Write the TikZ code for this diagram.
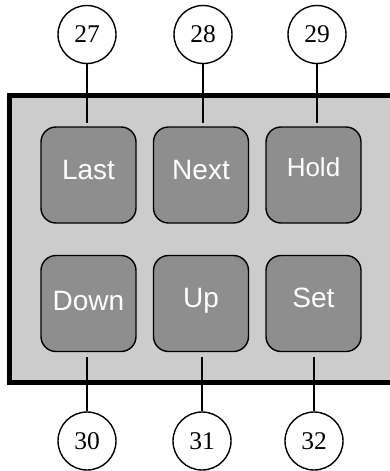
\documentclass[tikz,border=0pt]{standalone}
\usepackage{fontspec}
\setmainfont{Liberation Serif}
\newfontfamily\keyfont{Liberation Sans}
\definecolor{panelgray}{HTML}{CCCCCC}
\definecolor{keygray}{HTML}{8E8E8E}
\begin{document}
\begin{tikzpicture}[x=1pt, y=-1pt,
  keybtn/.style={draw=black, line width=1.4pt, fill=keygray, rounded corners=15pt,
    minimum width=95pt, minimum height=96pt, inner sep=0pt,
    text=white, font=\keyfont\fontsize{28}{28}\selectfont,
    text height=20pt, text depth=12pt},
  callout/.style={draw=black, line width=1.4pt, circle, fill=white,
    minimum size=58pt, inner sep=0pt,
    font=\fontsize{25.5}{25.5}\selectfont},
  leader/.style={draw=black, line width=1.4pt}]
  \useasboundingbox (0,0) rectangle (389,471);

  % housing of the key panel (runs off to the right)
  \filldraw[fill=panelgray, draw=black, line width=5pt] (9.5,95) rectangle (420,382);

  % keys, upper row
  \node[keybtn] (last) at (88.5,175) {Last};
  \node[keybtn] (next) at (201,175) {Next};
  \node[keybtn, font=\keyfont\fontsize{26}{26}\selectfont, text depth=16.6pt] (hold) at (313.5,175) {Hold};
  % keys, lower row
  \node[keybtn, text depth=7pt] (down) at (88.5,303.5) {Down};
  \node[keybtn] (up) at (201,303.5) {Up};
  \node[keybtn] (set) at (313.5,303.5) {Set};

  % reference numbers
  \node[callout] (n27) at (87,34.5) {27};
  \node[callout] (n28) at (203,34.5) {28};
  \node[callout] (n29) at (317,34.5) {29};
  \node[callout] (n30) at (87,441) {30};
  \node[callout] (n31) at (202,441) {31};
  \node[callout] (n32) at (314,441) {32};

  % leader line ends, just short of the keys
  \coordinate (e27) at (87,123);
  \coordinate (e28) at (203,123);
  \coordinate (e29) at (317,123);
  \coordinate (e30) at (87,357);
  \coordinate (e31) at (202,357);
  \coordinate (e32) at (314,357);

  \draw[leader] (n27) -- (e27);
  \draw[leader] (n28) -- (e28);
  \draw[leader] (n29) -- (e29);
  \draw[leader] (n30) -- (e30);
  \draw[leader] (n31) -- (e31);
  \draw[leader] (n32) -- (e32);
\end{tikzpicture}
\end{document}
